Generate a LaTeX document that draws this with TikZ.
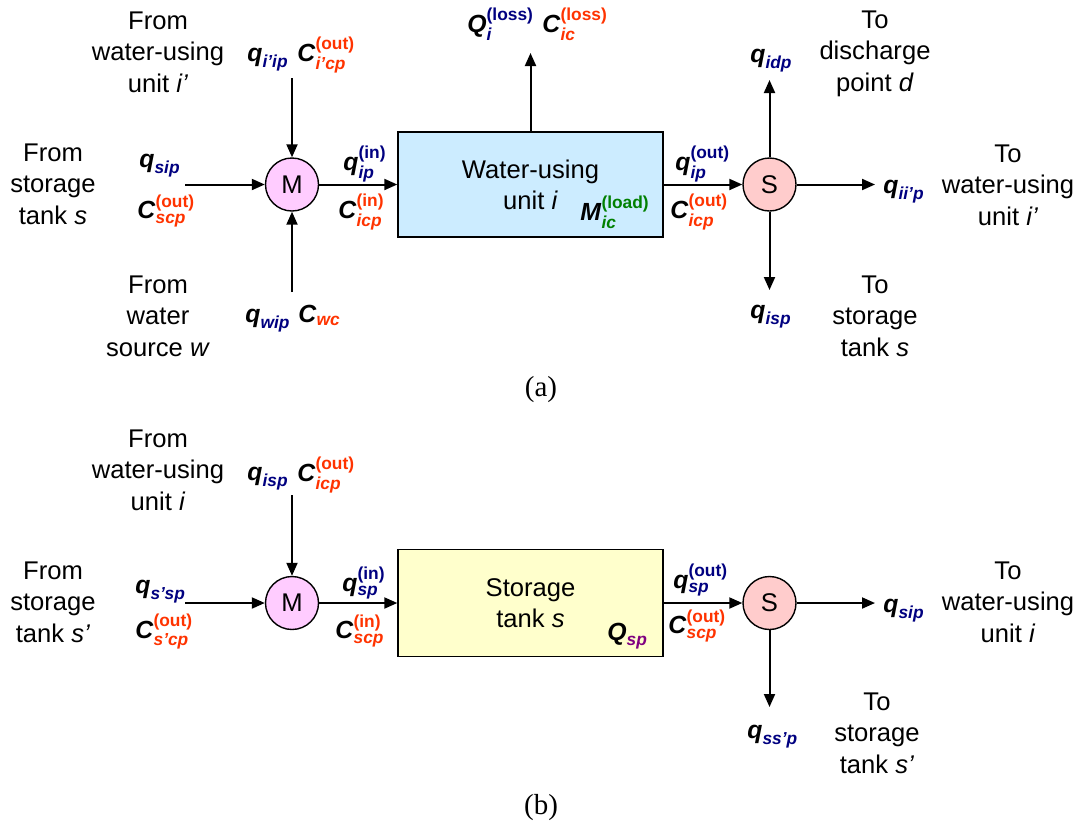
\documentclass[tikz,border=0pt]{standalone}
\usepackage{fontspec}
\usepackage{amsmath}
\setmainfont{Liberation Sans}
\newfontfamily\capserif{Liberation Serif}
\usetikzlibrary{arrows.meta}
\definecolor{qblue}{RGB}{0,0,128}
\definecolor{cred}{RGB}{255,51,0}
\definecolor{lgreen}{RGB}{0,128,0}
\definecolor{qpurple}{RGB}{128,0,128}
\definecolor{mfill}{RGB}{255,204,255}
\definecolor{sfill}{RGB}{255,204,204}
\definecolor{ufill}{RGB}{204,236,255}
\definecolor{tfill}{RGB}{255,255,204}
\newcommand{\bfitx}[1]{\textbf{\textit{#1}}}
\newcommand{\vlabsb}[3]{$\text{\bfitx{#1}}_{\text{\bfitx{\color{#3}#2}}}$}
\newcommand{\vlabss}[5]{$\text{\bfitx{#1}}_{\text{\bfitx{\color{#3}#2}}}^{\text{\bfseries\color{#5}#4}}$}
\tikzset{
  arr/.style={line width=1pt, -{Triangle[length=6.5pt,width=5.5pt]}},
  junc/.style={circle, draw, line width=0.7pt, minimum size=26.5pt, inner sep=0pt, font=\fontsize{12.8}{15}\selectfont},
  unitbox/.style={draw, line width=0.7pt, align=center, inner sep=0pt, minimum width=132.5pt, font=\fontsize{12.8}{15.5}\selectfont},
  txt/.style={align=center, anchor=base, inner sep=0pt, font=\fontsize{12.8}{15.75}\selectfont},
  lbl/.style={anchor=base west, inner sep=0pt, font=\fontsize{12.4}{14}\selectfont},
  figcap/.style={anchor=base, inner sep=0pt, font=\capserif\fontsize{14.5}{16}\selectfont},
}
\begin{document}
\begin{tikzpicture}[x=0.5pt,y=-0.5pt]
\useasboundingbox (0,0) rectangle (1085,825);
% ---------------- (a) ----------------
\node[junc, fill=mfill] (M1) at (292,184.5) {M};
\node[unitbox, fill=ufill, minimum height=52.5pt] (U) at (530.5,184.5) {Water-using\\unit \textit{i}};
\node[junc, fill=sfill] (S1) at (769.5,184.5) {S};
\coordinate (inT1) at (292,78);
\coordinate (inL1) at (185,184.5);
\coordinate (inB1) at (292,292);
\coordinate (loss) at (530.5,53);
\coordinate (outT1) at (769.5,80);
\coordinate (outR1) at (875,184.5);
\coordinate (outB1) at (769.5,290);
\draw[arr] (inT1) -- (M1);
\draw[arr] (inL1) -- (M1);
\draw[arr] (inB1) -- (M1);
\draw[arr] (M1) -- (U);
\draw[arr] (U.north) -- (loss);
\draw[arr] (U) -- (S1);
\draw[arr] (S1) -- (outT1);
\draw[arr] (S1) -- (outR1);
\draw[arr] (S1) -- (outB1);
% texts (a)  (anchor = baseline of last line)
\node[txt] (tA1) at (158,92) {From\\water-using\\unit \textit{i'}};
\node[txt] (tA2) at (53,224) {From\\storage\\tank \textit{s}};
\node[txt] (tA3) at (158,356) {From\\water\\source \textit{w}};
\node[txt] (tA4) at (875,91) {To\\discharge\\point \textit{d}};
\node[txt] (tA5) at (1008,225) {To\\water-using\\unit \textit{i'}};
\node[txt] (tA6) at (875,356) {To\\storage\\tank \textit{s}};
% labels (a)
\node[lbl] (a1) at (247,61) {\vlabsb{q}{i'ip}{qblue}};
\node[lbl] (a2) at (297,61) {\vlabss{C}{i'cp}{cred}{(out)}{cred}};
\node[lbl] (a3) at (139,167) {\vlabsb{q}{sip}{qblue}};
\node[lbl] (a4) at (137,218) {\vlabss{C}{scp}{cred}{(out)}{cred}};
\node[lbl] (a5) at (343,170) {\vlabss{q}{ip}{qblue}{(in)}{qblue}};
\node[lbl] (a6) at (338,218) {\vlabss{C}{icp}{cred}{(in)}{cred}};
\node[lbl] (a7) at (245,322) {\vlabsb{q}{wip}{qblue}};
\node[lbl] (a8) at (298,322) {\vlabsb{C}{wc}{cred}};
\node[lbl] (a9) at (467,32) {\vlabss{Q}{i}{qblue}{(loss)}{qblue}};
\node[lbl] (a10) at (542,32) {\vlabss{C}{ic}{cred}{(loss)}{cred}};
\node[lbl] (a11) at (580,220) {\vlabss{M}{ic}{lgreen}{(load)}{lgreen}};
\node[lbl] (a12) at (675,170) {\vlabss{q}{ip}{qblue}{(out)}{qblue}};
\node[lbl] (a13) at (670,218) {\vlabss{C}{icp}{cred}{(out)}{cred}};
\node[lbl] (a14) at (750,62) {\vlabsb{q}{idp}{qblue}};
\node[lbl] (a15) at (883,193) {\vlabsb{q}{ii'p}{qblue}};
\node[lbl] (a16) at (750,318) {\vlabsb{q}{isp}{qblue}};
\node[figcap] (capA) at (541,396) {(a)};
% ---------------- (b) ----------------
\node[junc, fill=mfill] (M2) at (292,603) {M};
\node[unitbox, fill=tfill, minimum height=53.5pt] (T) at (530.5,603) {Storage\\tank \textit{s}};
\node[junc, fill=sfill] (S2) at (769.5,603) {S};
\coordinate (inT2) at (292,495);
\coordinate (inL2) at (185,603);
\coordinate (outR2) at (875,603);
\coordinate (outB2) at (769.5,707);
\draw[arr] (inT2) -- (M2);
\draw[arr] (inL2) -- (M2);
\draw[arr] (M2) -- (T);
\draw[arr] (T) -- (S2);
\draw[arr] (S2) -- (outR2);
\draw[arr] (S2) -- (outB2);
% texts (b)
\node[txt] (tB1) at (158,510) {From\\water-using\\unit \textit{i}};
\node[txt] (tB2) at (53,642) {From\\storage\\tank \textit{s'}};
\node[txt] (tB3) at (1008,642) {To\\water-using\\unit \textit{i}};
\node[txt] (tB4) at (877,773) {To\\storage\\tank \textit{s'}};
% labels (b)
\node[lbl] (b1) at (247,480) {\vlabsb{q}{isp}{qblue}};
\node[lbl] (b2) at (297,481) {\vlabss{C}{icp}{cred}{(out)}{cred}};
\node[lbl] (b3) at (135,593) {\vlabsb{q}{s'sp}{qblue}};
\node[lbl] (b4) at (135,638) {\vlabss{C}{s'cp}{cred}{(out)}{cred}};
\node[lbl] (b5) at (342,591) {\vlabss{q}{sp}{qblue}{(in)}{qblue}};
\node[lbl] (b6) at (335,638) {\vlabss{C}{scp}{cred}{(in)}{cred}};
\node[lbl] (b7) at (607,640) {\vlabsb{Q}{sp}{qpurple}};
\node[lbl] (b8) at (673,588) {\vlabss{q}{sp}{qblue}{(out)}{qblue}};
\node[lbl] (b9) at (668,633) {\vlabss{C}{scp}{cred}{(out)}{cred}};
\node[lbl] (b10) at (883,612) {\vlabsb{q}{sip}{qblue}};
\node[lbl] (b11) at (747,738) {\vlabsb{q}{ss'p}{qblue}};
\node[figcap] (capB) at (541,814) {(b)};
\end{tikzpicture}
\end{document}
